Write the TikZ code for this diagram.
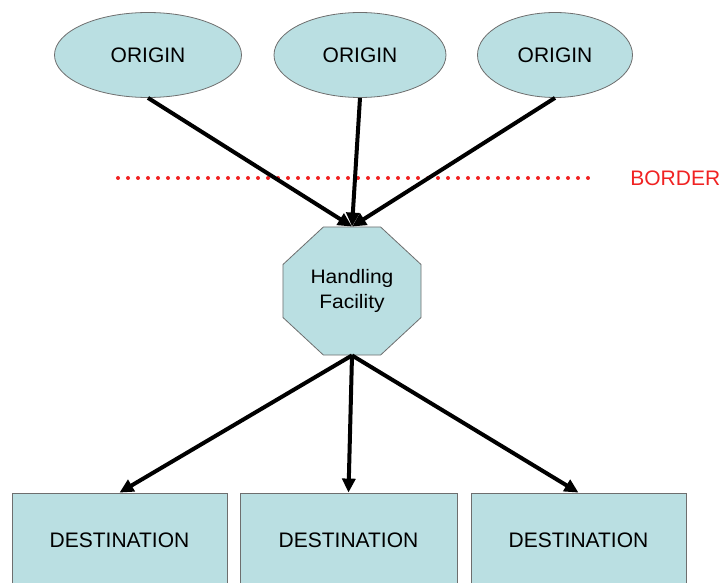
\documentclass[tikz,border=0pt]{standalone}
\usepackage{fontspec}
\setmainfont{Liberation Sans}
\usetikzlibrary{shapes.geometric,arrows.meta}

\definecolor{boxfill}{RGB}{186,223,226}
\definecolor{boxline}{RGB}{110,110,110}
\definecolor{borderred}{RGB}{240,35,35}

\tikzset{
  origin/.style={ellipse, draw=boxline, fill=boxfill, minimum height=42.5pt, inner sep=0pt},
  dest/.style={rectangle, draw=boxline, fill=boxfill, minimum width=107.5pt, minimum height=47.5pt},
  facility/.style={regular polygon, regular polygon sides=8, draw=boxline, fill=boxfill,
    minimum size=74.7pt, inner sep=0pt, align=center, yscale=0.928, transform shape,
    font=\fontsize{10.5}{13.6}\selectfont},
  flow/.style={-{Triangle[length=7pt,width=6.5pt]}, line width=2pt},
}

\begin{document}
\begin{tikzpicture}[x=0.5pt, y=-0.5pt, font=\fontsize{10.5}{12.5}\selectfont]
\useasboundingbox (0,0) rectangle (720,583);
\clip (0,0) rectangle (720,583);

% Origins
\node[origin, minimum width=93.5pt] (o1) at (148,55) {ORIGIN};
\node[origin, minimum width=86pt] (o2) at (360,55) {ORIGIN};
\node[origin, minimum width=77.5pt] (o3) at (555,55) {ORIGIN};

% Border line
\coordinate (b1) at (118,178);
\coordinate (b2) at (597,178);
\draw[borderred, line width=2pt, line cap=round, dash pattern=on 0pt off 5pt] (b1) -- (b2);
\node[borderred, anchor=west, inner sep=0pt] (border) at (630,178) {BORDER};

% Handling facility
\node[facility] (hf) at (352,291) {Handling\\Facility};

% Destinations
\node[dest] (d1) at (119.5,540.5) {DESTINATION};
\node[dest, minimum width=108.5pt] (d2) at (348.5,540.5) {DESTINATION};
\node[dest] (d3) at (578.5,540.5) {DESTINATION};

% Flows
\draw[flow] (o1.south) -- (hf.north);
\draw[flow] (o2.south) -- (hf.north);
\draw[flow] (o3.south) -- (hf.north);
\draw[flow] (hf.south) -- (d1.north);
\draw[flow] (hf.south) -- (d2.north);
\draw[flow] (hf.south) -- (d3.north);

\end{tikzpicture}
\end{document}
